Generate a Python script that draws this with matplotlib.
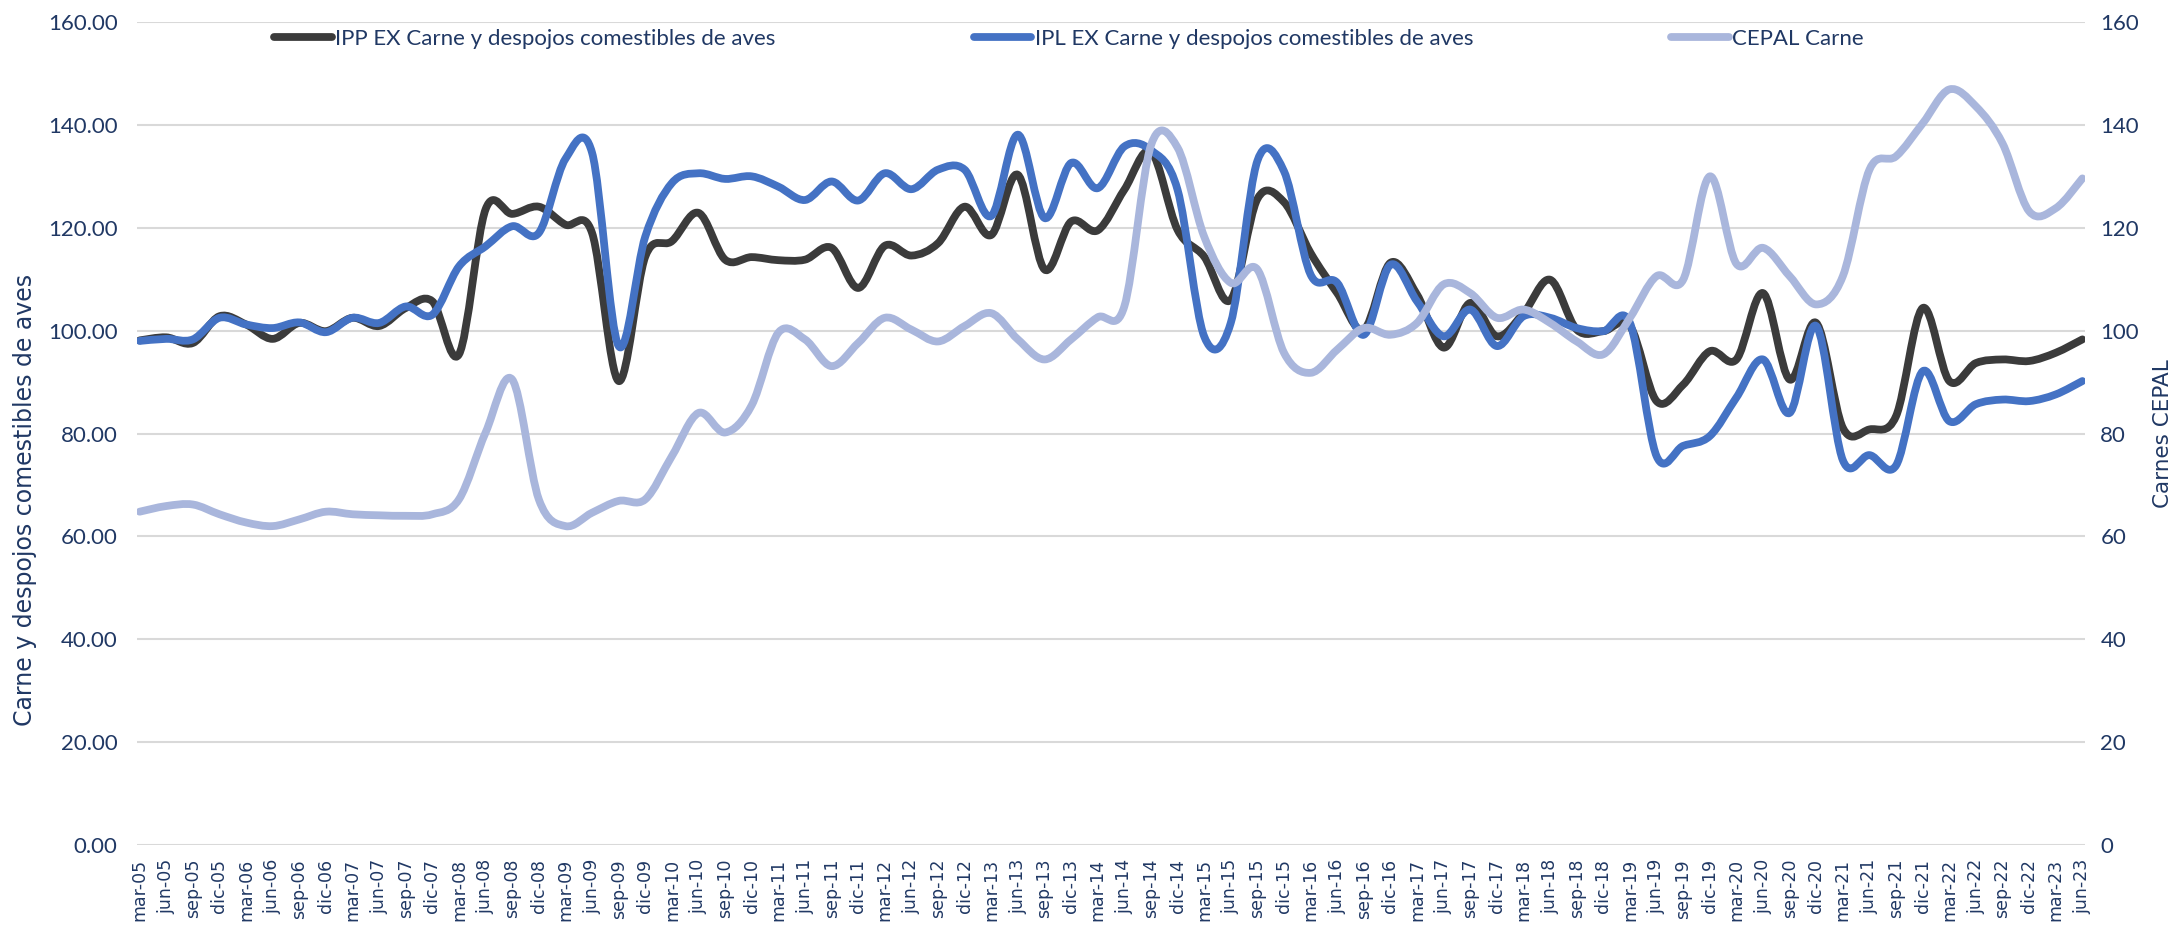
import numpy as np
import matplotlib
matplotlib.use("Agg")
import matplotlib.pyplot as plt
from matplotlib.path import Path
from matplotlib.patches import PathPatch
from matplotlib.lines import Line2D

plt.rcParams['font.family'] = ['Lato', 'DejaVu Sans']

# ---------------------------------------------
# Datos (trimestrales, mar-05 a jun-23)

meses = ['mar', 'jun', 'sep', 'dic']
etiquetas = [f'{m}-{a:02d}' for a in range(5, 24) for m in meses][:74]

ipp_ex = [98.1, 98.7, 97.6, 102.8, 101.2, 98.4, 101.5, 99.9, 102.5, 100.9,
          104.4, 105.7, 95.4, 123.6, 122.7, 124.1, 120.6, 119.0, 90.2, 114.4,
          117.4, 122.9, 113.8, 114.3, 113.7, 113.8, 116.1, 108.3, 116.5, 114.6,
          117.0, 124.1, 118.6, 130.3, 111.9, 121.2, 119.5, 127.4, 134.8, 119.6,
          114.4, 106.0, 125.6, 125.0, 115.1, 107.3, 100.2, 113.2, 107.0, 96.7,
          105.4, 98.9, 103.4, 109.9, 100.2, 99.9, 100.9, 86.3, 89.5, 96.0,
          94.4, 107.3, 90.5, 101.5, 81.1, 80.8, 83.4, 104.4, 90.2, 93.7,
          94.4, 94.1, 95.7, 98.3]

ipl_ex = [98.0, 98.4, 98.3, 102.5, 101.2, 100.5, 101.6, 99.7, 102.5, 101.5,
          104.7, 103.1, 112.5, 116.4, 120.3, 119.0, 133.4, 134.6, 97.0, 118.3,
          128.7, 130.6, 129.5, 130.0, 128.0, 125.4, 129.0, 125.3, 130.6, 127.5,
          131.3, 131.3, 122.3, 138.1, 121.9, 132.6, 127.7, 135.8, 135.1, 127.4,
          98.9, 101.5, 133.0, 131.0, 110.9, 109.3, 99.2, 112.8, 105.7, 98.9,
          104.1, 97.0, 102.8, 102.5, 100.5, 99.9, 101.5, 75.6, 77.6, 79.5,
          87.0, 94.4, 84.0, 100.9, 74.8, 75.8, 73.8, 92.1, 82.4, 85.7,
          86.6, 86.3, 87.6, 90.2]

cepal_carne = [64.8, 65.9, 66.2, 64.3, 62.7, 62.0, 63.3, 64.8, 64.3, 64.1,
               64.0, 64.3, 67.2, 80.2, 90.5, 67.2, 62.0, 64.6, 66.9, 67.2,
               75.6, 84.0, 80.2, 85.5, 99.6, 98.3, 93.1, 97.6, 102.5, 100.2,
               97.9, 100.9, 103.4, 98.3, 94.4, 98.3, 102.6, 104.7, 136.0, 135.6,
               118.3, 109.3, 111.9, 95.7, 91.8, 96.3, 100.5, 99.2, 101.5, 109.0,
               107.3, 102.5, 104.1, 101.5, 97.9, 95.4, 102.5, 110.6, 109.9, 130.0,
               113.0, 116.1, 110.6, 105.1, 110.6, 131.3, 133.9, 140.3, 146.9, 143.6,
               136.4, 123.2, 123.8, 129.6]

# ---------------------------------------------

color_texto = '#203864'
color_ipp = '#3b3b3b'
color_ipl = '#4472c4'
color_cepal = '#a9b6dc'
grosor = 5.6


def linea_suavizada(ax, y, color):
    # Curva tipo "línea suavizada" de Excel: Bézier cúbica entre puntos
    x = np.arange(len(y), dtype=float)
    y = np.asarray(y, dtype=float)
    pts = np.column_stack([x, y])
    n = len(pts)
    verts = [pts[0]]
    codes = [Path.MOVETO]
    for i in range(n - 1):
        p0 = pts[i - 1] if i > 0 else pts[i]
        p1 = pts[i]
        p2 = pts[i + 1]
        p3 = pts[i + 2] if i + 2 < n else pts[i + 1]
        c1 = p1 + (p2 - p0) / 6
        c2 = p2 - (p3 - p1) / 6
        verts += [c1, c2, p2]
        codes += [Path.CURVE4] * 3
    patch = PathPatch(Path(verts, codes), facecolor='none', edgecolor=color,
                      lw=grosor, capstyle='round', joinstyle='round')
    ax.add_patch(patch)


fig = plt.figure(figsize=(21.81, 9.34), dpi=100)
ax = fig.add_axes([0.0628, 0.0953, 0.8932, 0.8811])
ax2 = ax.twinx()

linea_suavizada(ax, ipp_ex, color_ipp)
linea_suavizada(ax, ipl_ex, color_ipl)
linea_suavizada(ax2, cepal_carne, color_cepal)

x = np.arange(len(etiquetas))
ax.set_xlim(-0.1, len(etiquetas) - 0.9)
ax.set_ylim(0, 160)
ax2.set_ylim(0, 160)

ax.set_yticks(np.arange(0, 161, 20))
ax.set_yticklabels([f'{v:.2f}' for v in np.arange(0, 161, 20)])
ax2.set_yticks(np.arange(0, 161, 20))
ax2.set_yticklabels([f'{v}' for v in np.arange(0, 161, 20)])
ax.set_xticks(x)
ax.set_xticklabels(etiquetas, rotation=90, family=['DejaVu Sans'])

ax.grid(True, axis='y', color='#d9d9d9', linewidth=1.5)
ax.set_axisbelow(True)
for a in (ax, ax2):
    for s in a.spines.values():
        s.set_visible(False)
ax.tick_params(axis='y', length=0, pad=14, labelsize=16, labelcolor=color_texto)
ax.tick_params(axis='x', length=0, pad=10, labelsize=12.5, labelcolor=color_texto)
ax2.tick_params(axis='y', length=0, pad=11, labelsize=16, labelcolor=color_texto)

fig.text(25 / 2181, 0.465, 'Carne y despojos comestibles de aves', rotation=90,
         ha='center', va='center', fontsize=17, color=color_texto,
         family=['DejaVu Sans'])
fig.text(2163 / 2181, 0.536, 'Carnes CEPAL', rotation=90,
         ha='center', va='center', fontsize=15.5, color=color_texto,
         family=['DejaVu Sans'])

manijas = [Line2D([], [], color=c, lw=grosor, solid_capstyle='round')
           for c in (color_ipp, color_ipl, color_cepal)]
nombres = ['IPP EX Carne y despojos comestibles de aves',
           'IPL EX Carne y despojos comestibles de aves',
           'CEPAL Carne']
fig.legend(manijas, nombres, loc='center', ncol=3, mode='expand',
           bbox_to_anchor=(274 / 2181, 0.958, (1864 - 274) / 2181, 0.0),
           frameon=False, borderpad=0, borderaxespad=0, handlelength=2.6,
           handletextpad=0.15, fontsize=16, labelcolor=color_texto)

fig.savefig('out.png', dpi=100)
